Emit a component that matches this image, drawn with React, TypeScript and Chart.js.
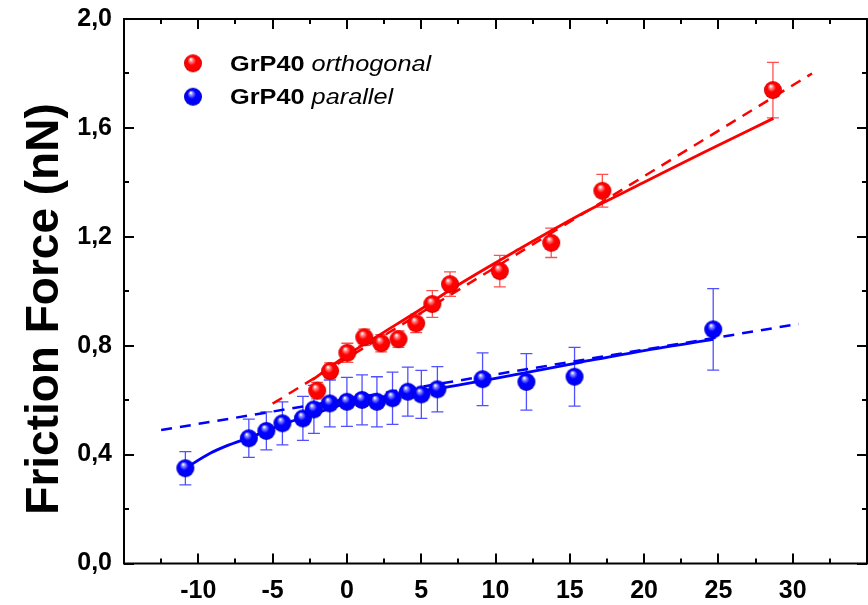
import React, { useEffect, useRef } from 'react';
import { Chart, registerables } from 'chart.js';

Chart.register(...registerables);

// ---- data ----
const orthoX = [-2.0, -1.13, 0.03, 1.17, 2.31, 3.47, 4.66, 5.75, 6.94, 10.29, 13.75, 17.19, 28.67];
const orthoY = [0.635, 0.707, 0.774, 0.831, 0.809, 0.824, 0.882, 0.953, 1.026, 1.074, 1.178, 1.369, 1.739];
const orthoErr = [0.03, 0.03, 0.035, 0.03, 0.032, 0.03, 0.034, 0.049, 0.045, 0.058, 0.054, 0.06, 0.102];

const paraX = [-10.87, -6.6, -5.42, -4.34, -2.96, -2.22, -1.15, 0.0, 1.02, 2.02, 3.07, 4.1, 5.01, 6.09, 9.13, 12.08, 15.32, 24.65];
const paraY = [0.35, 0.46, 0.487, 0.515, 0.533, 0.566, 0.588, 0.594, 0.601, 0.594, 0.607, 0.631, 0.621, 0.64, 0.677, 0.667, 0.686, 0.86];
const paraErr = [0.061, 0.07, 0.07, 0.079, 0.081, 0.088, 0.086, 0.09, 0.092, 0.092, 0.096, 0.09, 0.088, 0.083, 0.097, 0.104, 0.108, 0.15];

// fit curves (solid) and linear fits (dashed)
const orthoFitX = [-2.3, 0, 2.5, 5, 7.1, 11.6, 16, 20, 24, 28.7];
const orthoFitY = [0.675, 0.765, 0.85, 0.935, 1.01, 1.155, 1.29, 1.40, 1.51, 1.635];
const orthoLinX = [-5, 31.3];
const orthoLinY = [0.587, 1.8];

const paraFitX = [-10.87, -9.2, -8.1, -6.6, -5.4, -4.3, -3.0, -2.0, -1.0, 0, 3, 6.9, 10, 15.8, 20, 24.65];
const paraFitY = [0.35, 0.405, 0.432, 0.462, 0.487, 0.512, 0.535, 0.553, 0.572, 0.588, 0.617, 0.65, 0.68, 0.74, 0.782, 0.823];
const paraLinX = [-12.5, 30.4];
const paraLinY = [0.49, 0.88];

const seriesNames = ['orthogonal', 'parallel'];
const seriesPrefix = 'GrP40';
const yTitle = 'Friction Force (nN)';

const xMin = -15, xMax = 35, xMajor = 5, xMinor = 2.5;
const yMin = 0, yMax = 2.0, yMajor = 0.4, yMinor = 0.2;

const FONT = '"Liberation Sans", Arial, Helvetica, sans-serif';

function pts(xs: number[], ys: number[]) {
  return xs.map((x, i) => ({ x, y: ys[i] }));
}

function makeBall(light: string, base: string, dark: string, r: number) {
  const c = document.createElement('canvas');
  const s = r * 2 + 2;
  c.width = s;
  c.height = s;
  const g = c.getContext('2d')!;
  const cx = s / 2, cy = s / 2;
  const grad = g.createRadialGradient(cx - r * 0.25, cy - r * 0.45, r * 0.05, cx, cy, r);
  grad.addColorStop(0, '#ffffff');
  grad.addColorStop(0.15, light);
  grad.addColorStop(0.45, base);
  grad.addColorStop(0.85, base);
  grad.addColorStop(1, dark);
  g.fillStyle = grad;
  g.beginPath();
  g.arc(cx, cy, r, 0, Math.PI * 2);
  g.fill();
  return c;
}

export default function App() {
  const ref = useRef<HTMLCanvasElement | null>(null);

  useEffect(() => {
    const canvas = ref.current!;
    const redBall = makeBall('#ff9090', '#ff0000', '#b80000', 9);
    const blueBall = makeBall('#9090ff', '#0000ff', '#0000a8', 9);

    const errorBars = {
      id: 'errorBars',
      beforeDatasetsDraw(chart: any) {
        const { ctx, chartArea: a, scales } = chart;
        const x = scales.x, y = scales.y;
        ctx.save();
        ctx.beginPath();
        ctx.rect(a.left, a.top, a.right - a.left, a.bottom - a.top);
        ctx.clip();
        const draw = (xs: number[], ys: number[], es: number[], color: string) => {
          ctx.strokeStyle = color;
          ctx.lineWidth = 1.3;
          for (let i = 0; i < xs.length; i++) {
            const px = x.getPixelForValue(xs[i]);
            const top = y.getPixelForValue(ys[i] + es[i]);
            const bot = y.getPixelForValue(ys[i] - es[i]);
            ctx.beginPath();
            ctx.moveTo(px, top);
            ctx.lineTo(px, bot);
            ctx.moveTo(px - 6, top);
            ctx.lineTo(px + 6, top);
            ctx.moveTo(px - 6, bot);
            ctx.lineTo(px + 6, bot);
            ctx.stroke();
          }
        };
        draw(paraX, paraY, paraErr, '#5050ff');
        draw(orthoX, orthoY, orthoErr, '#ff5050');
        ctx.restore();
      },
    };

    const frame = {
      id: 'frame',
      afterDraw(chart: any) {
        const { ctx, chartArea: a, scales } = chart;
        const x = scales.x, y = scales.y;
        ctx.save();
        ctx.strokeStyle = '#000';
        ctx.lineWidth = 2;
        ctx.strokeRect(a.left, a.top, a.right - a.left, a.bottom - a.top);
        ctx.beginPath();
        const nx = Math.round((xMax - xMin) / xMinor);
        for (let i = 0; i <= nx; i++) {
          const v = xMin + i * xMinor;
          const major = Math.abs(v / xMajor - Math.round(v / xMajor)) < 1e-6;
          const len = major ? 10 : 5;
          const px = Math.round(x.getPixelForValue(v));
          ctx.moveTo(px, a.bottom);
          ctx.lineTo(px, a.bottom - len);
          ctx.moveTo(px, a.top);
          ctx.lineTo(px, a.top + len);
        }
        const ny = Math.round((yMax - yMin) / yMinor);
        for (let i = 0; i <= ny; i++) {
          const v = yMin + i * yMinor;
          const major = Math.abs(v / yMajor - Math.round(v / yMajor)) < 1e-6;
          const len = major ? 10 : 5;
          const py = Math.round(y.getPixelForValue(v));
          ctx.moveTo(a.left, py);
          ctx.lineTo(a.left + len, py);
          ctx.moveTo(a.right, py);
          ctx.lineTo(a.right - len, py);
        }
        ctx.stroke();

        // y axis title
        ctx.save();
        ctx.translate(58, 309);
        ctx.rotate(-Math.PI / 2);
        ctx.fillStyle = '#000';
        ctx.font = `bold 46px ${FONT}`;
        ctx.textAlign = 'center';
        ctx.textBaseline = 'alphabetic';
        ctx.fillText(yTitle, 0, 0);
        ctx.restore();

        // legend
        const entries = [
          { ball: redBall, cy: 63.3, base: 71, label: seriesNames[0] },
          { ball: blueBall, cy: 96.7, base: 104.3, label: seriesNames[1] },
        ];
        for (const e of entries) {
          ctx.drawImage(e.ball, 193 - e.ball.width / 2, e.cy - e.ball.height / 2);
          ctx.save();
          ctx.translate(230, e.base);
          ctx.scale(1.15, 1);
          ctx.fillStyle = '#000';
          ctx.textAlign = 'left';
          ctx.textBaseline = 'alphabetic';
          ctx.font = `bold 22px ${FONT}`;
          ctx.fillText(seriesPrefix, 0, 0);
          const w = ctx.measureText(seriesPrefix + ' ').width;
          ctx.font = `italic 22px ${FONT}`;
          ctx.fillText(e.label, w, 0);
          ctx.restore();
        }
        ctx.restore();
      },
    };

    const chart = new Chart(canvas, {
      type: 'scatter',
      data: {
        datasets: [
          {
            label: seriesNames[0],
            data: pts(orthoX, orthoY),
            pointStyle: redBall as any,
            pointRadius: 9,
            showLine: false,
          },
          {
            label: seriesNames[1],
            data: pts(paraX, paraY),
            pointStyle: blueBall as any,
            pointRadius: 9,
            showLine: false,
          },
          {
            label: 'ortho fit',
            data: pts(orthoFitX, orthoFitY),
            showLine: true,
            pointRadius: 0,
            borderColor: '#ff0000',
            borderWidth: 2.8,
            cubicInterpolationMode: 'monotone',
          },
          {
            label: 'ortho linear',
            data: pts(orthoLinX, orthoLinY),
            showLine: true,
            pointRadius: 0,
            borderColor: '#ff0000',
            borderWidth: 2.5,
            borderDash: [11, 8],
          },
          {
            label: 'para fit',
            data: pts(paraFitX, paraFitY),
            showLine: true,
            pointRadius: 0,
            borderColor: '#0000ff',
            borderWidth: 2.8,
            cubicInterpolationMode: 'monotone',
          },
          {
            label: 'para linear',
            data: pts(paraLinX, paraLinY),
            showLine: true,
            pointRadius: 0,
            borderColor: '#0000ff',
            borderWidth: 2.5,
            borderDash: [11, 8],
          },
        ] as any,
      },
      options: {
        animation: false,
        responsive: false,
        devicePixelRatio: 1,
        layout: { padding: { top: 19, right: 10, bottom: 0, left: 0 } },
        plugins: {
          legend: { display: false },
          tooltip: { enabled: false },
          title: { display: false },
        },
        scales: {
          x: {
            type: 'linear',
            min: xMin,
            max: xMax,
            grid: { display: false, drawTicks: false },
            border: { display: false },
            afterFit: (s: any) => {
              s.height = 41.5;
            },
            ticks: {
              stepSize: xMajor,
              autoSkip: false,
              maxRotation: 0,
              padding: 13,
              color: '#000',
              font: { family: FONT, size: 25, weight: 'bold' },
              callback: (v: any) => (v === xMin || v === xMax ? '' : String(v)),
            },
          },
          y: {
            type: 'linear',
            min: yMin,
            max: yMax,
            grid: { display: false, drawTicks: false },
            border: { display: false },
            afterFit: (s: any) => {
              s.width = 124;
            },
            ticks: {
              stepSize: yMajor,
              padding: 12,
              color: '#000',
              font: { family: FONT, size: 25, weight: 'bold', lineHeight: 0.5 },
              callback: (v: any) => Number(v).toFixed(1).replace('.', ','),
            },
          },
        },
      } as any,
      plugins: [errorBars, frame],
    });

    return () => chart.destroy();
  }, []);

  return (
    <div
      style={{
        position: 'fixed',
        left: 0,
        top: 0,
        width: 868,
        height: 605,
        overflow: 'hidden',
        background: '#fff',
      }}
    >
      <canvas ref={ref} width={880} height={605} style={{ width: 880, height: 605, display: 'block' }} />
    </div>
  );
}
